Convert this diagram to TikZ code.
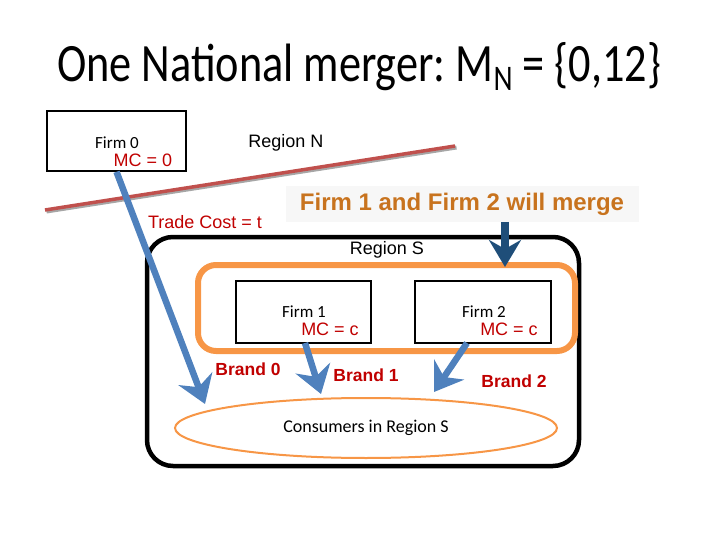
\documentclass[tikz,border=0pt]{standalone}
\usepackage{fontspec}
\setmainfont{Carlito}
\newfontfamily\arialf{Liberation Sans}
\usetikzlibrary{arrows.meta,shapes.geometric}
\definecolor{mcred}{HTML}{C00000}
\definecolor{bluearr}{HTML}{4F81BD}
\definecolor{darkblue}{HTML}{1F4E79}
\definecolor{orangeb}{HTML}{F79646}
\definecolor{mergec}{HTML}{C8731E}
\definecolor{redline}{HTML}{C0504D}
\frenchspacing
\begin{document}
\begin{tikzpicture}[x=1pt,y=-1pt,
  firmbox/.style={draw=black,line width=1.6pt,minimum width=137pt,minimum height=60pt,inner sep=0pt},
  firmtxt/.style={font=\fontsize{17}{17}\selectfont},
  mctxt/.style={font=\arialf\fontsize{18}{18}\selectfont,text=mcred},
  brandtxt/.style={font=\arialf\bfseries\fontsize{17.5}{17.5}\selectfont,text=mcred},
  plain/.style={font=\arialf\fontsize{18}{18}\selectfont},
  flow/.style={draw=bluearr,line width=6.5pt,-{Stealth[length=27pt,width=36pt,inset=9pt]}},
]
\useasboundingbox (0,0) rectangle (720,540);
% title
\node[anchor=base,inner sep=0pt] (title) at (359,82)
  {\scalebox{0.82}[1]{\fontsize{54}{54}\selectfont One National merger: M\raisebox{-9pt}{\fontsize{36}{36}\selectfont N} = \{0,12\}}};
% Region S box
\node[draw=black,line width=4.5pt,rounded corners=26pt,minimum width=432pt,minimum height=229pt] (regS) at (363,351.5) {};
% orange merge box
\node[draw=orangeb,line width=6pt,rounded corners=18pt,minimum width=377pt,minimum height=86pt] (mbox) at (386.5,308) {};
% firms
\node[firmbox,minimum width=139pt] (firm0) at (116.5,141) {};
\node[firmtxt] (f0t) at (117,143) {Firm 0};
\node[mctxt] (f0m) at (143,160) {MC = 0};
\node[firmbox,minimum width=135pt,minimum height=62pt] (firm1) at (303.5,312) {};
\node[firmtxt] (f1t) at (304,312) {Firm 1};
\node[mctxt] (f1m) at (330,329) {MC = c};
\node[firmbox,minimum width=136pt,minimum height=62pt] (firm2) at (483,312) {};
\node[firmtxt] (f2t) at (484,312) {Firm 2};
\node[mctxt] (f2m) at (509,329) {MC = c};
% red boundary line
\coordinate (lnA) at (45,210);
\coordinate (lnB) at (455,146);
\draw[draw=black!35,line width=4pt] ([shift={(1.5,1.5)}]lnA) -- ([shift={(1.5,1.5)}]lnB);
\draw[draw=redline,line width=3.5pt] (lnA) -- (lnB);
% labels
\node[plain] (regN) at (286,143) {Region N};
\node[mctxt] (tc) at (205,222) {Trade Cost = t};
\node[fill=black!3,minimum width=353pt,minimum height=36pt,font=\arialf\bfseries\fontsize{24}{24}\selectfont,text=mergec] (merge) at (462,204) {Firm 1 and Firm 2 will merge};
\node[plain] (regSt) at (387,250) {Region S};
% consumers
\node[draw=orangeb,line width=2pt,ellipse,minimum width=382pt,minimum height=60pt,inner sep=0pt] (cons) at (366,428) {};
\node[firmtxt,font=\fontsize{18}{18}\selectfont] (const) at (366,428) {Consumers in Region S};
% brands
\node[brandtxt] (b0) at (248,369) {Brand 0};
\node[brandtxt] (b1) at (366,375) {Brand 1};
\node[brandtxt] (b2) at (514,381) {Brand 2};
% arrows
\coordinate (e0) at (205,404);
\coordinate (s1) at (305,343);
\coordinate (e1) at (321,394);
\coordinate (s2) at (467,343);
\coordinate (e2) at (434,392);
\coordinate (sm) at (505,222);
\coordinate (em) at (505,267);
\draw[flow] (firm0.south) -- (e0);
\draw[flow] (s1) -- (e1);
\draw[flow] (s2) -- (e2);
\draw[draw=darkblue,line width=8pt,-{Stealth[length=27pt,width=32pt,inset=9pt]}] (sm) -- (em);
\end{tikzpicture}
\end{document}
